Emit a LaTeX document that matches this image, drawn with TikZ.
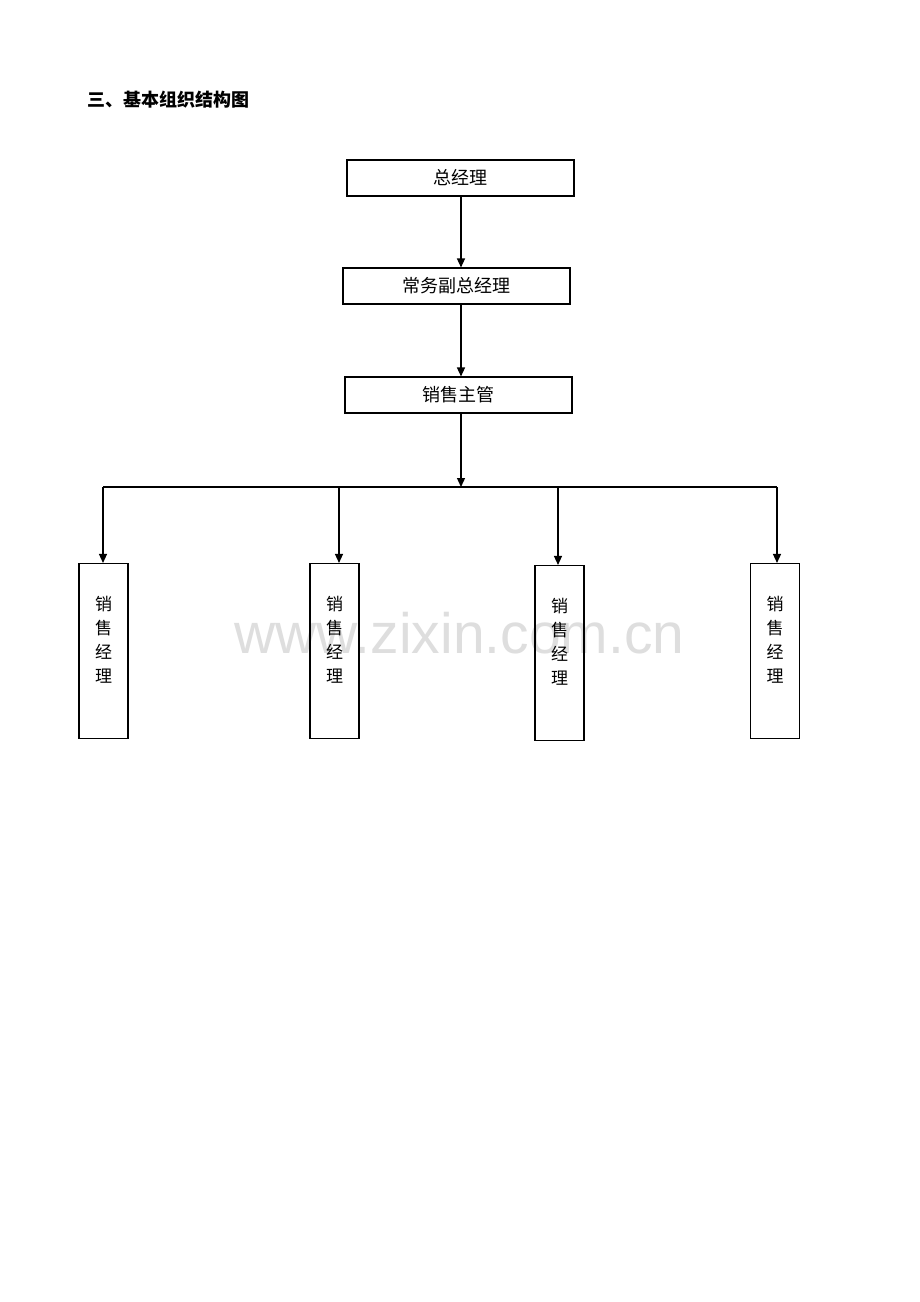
\documentclass[tikz,border=0pt]{standalone}
\usepackage{fontspec}
\newfontfamily\cjk{Noto Sans CJK SC}
\newfontfamily\wmfont{Liberation Sans}
\usetikzlibrary{arrows.meta}
\definecolor{wmgray}{HTML}{DEDEDE}
\begin{document}
\begin{tikzpicture}[x=1pt,y=-1pt,
  hbox/.style={draw,line width=1.1pt,minimum width=227pt,minimum height=36pt,inner sep=0pt,font=\cjk\fontsize{18}{18}\selectfont},
  vbox/.style={draw,line width=1.1pt,minimum width=49pt,minimum height=175pt,inner sep=0pt,align=center,font=\cjk\fontsize{17}{24}\selectfont},
  arr/.style={line width=1.3pt,-{Triangle[width=8pt,length=9pt]}},
  ln/.style={line width=1.3pt}]
\useasboundingbox[fill=white] (0,0) rectangle (920,1302);
\node[wmgray,font=\wmfont\fontsize{57}{57}\selectfont] (wm) at (459.5,633) {www.zixin.com.cn};
\node[anchor=west,font=\cjk\bfseries\fontsize{18}{18}\selectfont] (title) at (84,100) {三、基本组织结构图};
\node[hbox] (b1) at (460.5,178) {总经理};
\node[hbox] (b2) at (456.5,286) {常务副总经理};
\node[hbox] (b3) at (458.5,395) {销售主管};
\node[vbox] (va) at (103.5,651) {销\\售\\经\\理\\ };
\node[vbox] (vb) at (334.5,651) {销\\售\\经\\理\\ };
\node[vbox] (vc) at (559.5,653) {销\\售\\经\\理\\ };
\node[vbox] (vd) at (775,651) {销\\售\\经\\理\\ };
\coordinate (mx) at (461,0);
\coordinate (bus) at (461,487);
\coordinate (ta) at (103,487);
\coordinate (tb) at (339,487);
\coordinate (tc) at (558,487);
\coordinate (td) at (777,487);
\draw[arr] (b1.south -| mx) -- (b2.north -| mx);
\draw[arr] (b2.south -| mx) -- (b3.north -| mx);
\draw[arr] (b3.south -| mx) -- (bus);
\draw[ln] (ta) -- (td);
\draw[arr] (ta) -- (ta |- va.north);
\draw[arr] (tb) -- (tb |- vb.north);
\draw[arr] (tc) -- (tc |- vc.north);
\draw[arr] (td) -- (td |- vd.north);
\end{tikzpicture}
\end{document}
